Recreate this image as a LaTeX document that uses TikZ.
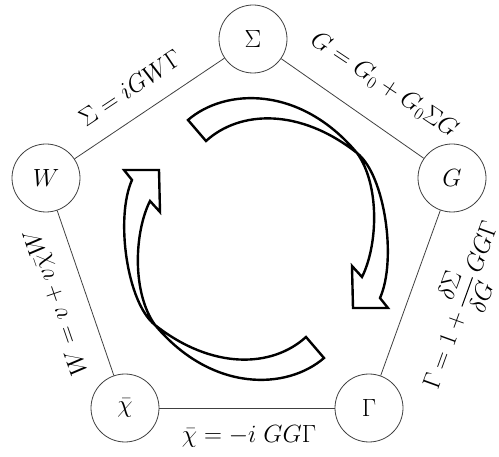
\documentclass[tikz,border=0pt]{standalone}
\usepackage{amsmath}
\begin{document}
\begin{tikzpicture}[x=1pt,y=-1pt,
  state/.style={circle,draw=black!75,line width=0.8pt,minimum size=68pt,inner sep=0pt,font=\fontsize{31}{34}\selectfont},
  link/.style={draw=black!75,line width=0.8pt},
  lbl/.style={font=\fontsize{27}{31}\selectfont,inner sep=0pt},
  cyc/.style={draw=black,line width=2.4pt,line join=miter}]
\useasboundingbox (0,0) rectangle (499,457);
% nodes
\node[state] (S) at (253,39) {$\Sigma$};
\node[state] (W) at (46,178) {$W$};
\node[state] (G) at (452,178) {$G$};
\node[state] (X) at (125,408) {$\bar{\chi}$};
\node[state] (Gm) at (369,408) {$\Gamma$};
% edges
\draw[link] (W) -- (S);
\draw[link] (S) -- (G);
\draw[link] (G) -- (Gm);
\draw[link] (Gm) -- (X);
\draw[link] (X) -- (W);
% labels
\node[lbl,rotate=33.7] (l1) at (130,88) {$\Sigma = iGW\Gamma$};
\node[lbl,rotate=-33.7] (l2) at (384,85) {$G = G_0 + G_0\Sigma G$};
\node[lbl,rotate=70] (l3) at (460,305) {$\Gamma = 1 + \dfrac{\delta\Sigma}{\delta G}\,GG\Gamma$};
\node[lbl,rotate=109] (l4) at (57,302) {$W = v + v\bar{\chi}W$};
\node[lbl,font=\fontsize{28}{32}\selectfont] (l5) at (249,436) {$\bar{\chi} = -i\;GG\Gamma$};
% cycle arrows
\def\cycarrow{(188,120) .. controls (225,88) and (300,85) .. (357,153)
  .. controls (380,185) and (378,245) .. (362,277) -- (352,266) -- (353,308)
  -- (388,308) -- (380,298) .. controls (397,260) and (385,175) .. (357,153)
  .. controls (300,108) and (240,110) .. (206,141) -- cycle}
\draw[cyc] \cycarrow;
\draw[cyc,rotate around={180:(256,239)}] \cycarrow;
\end{tikzpicture}
\end{document}
